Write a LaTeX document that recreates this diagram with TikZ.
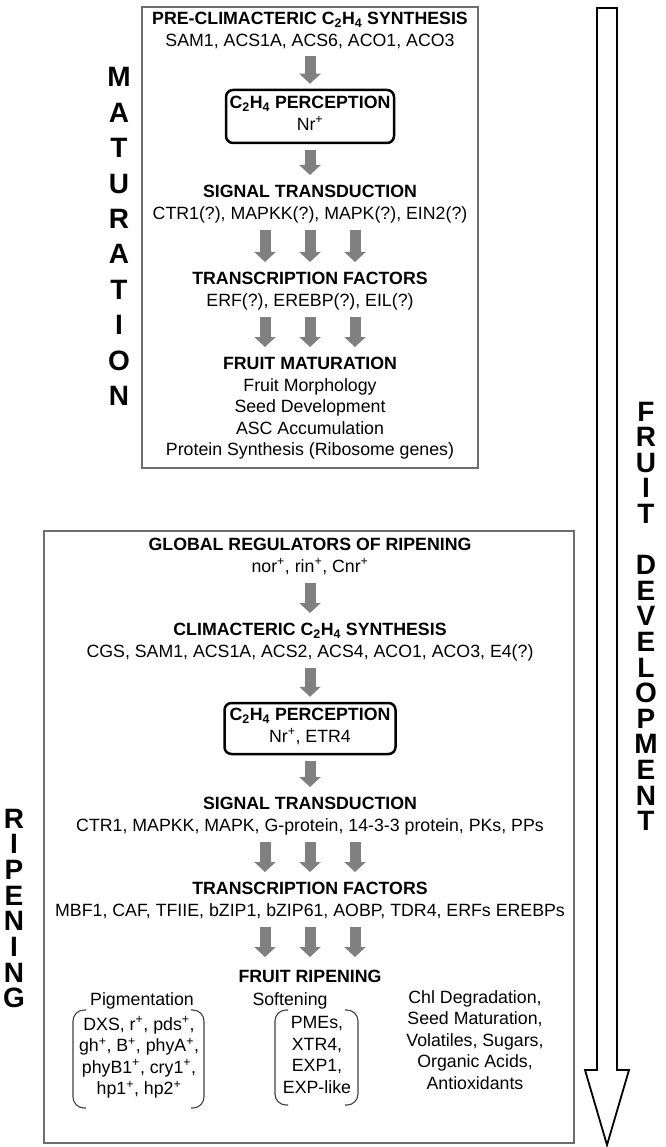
\documentclass[tikz,border=0pt]{standalone}
\usepackage{fontspec}
\setmainfont{Liberation Sans}
\usetikzlibrary{arrows.meta}

\definecolor{arrowgray}{RGB}{128,128,128}
\definecolor{framegray}{RGB}{110,110,110}
\newcommand{\ethyl}{C\textsubscript{2}H\textsubscript{4}}
\newcommand{\plus}{\textsuperscript{+}}
\newcommand{\nl}{\\\strut}

\begin{document}
\begin{tikzpicture}[x=1pt, y=-1pt]
    % Styles
    \tikzstyle{txt}=[inner sep=0pt, anchor=north, align=center, font=\fontsize{17.75}{21.5}\selectfont, execute at begin node=\strut]
    \tikzstyle{percbox}=[txt, anchor=center, draw, line width=2.5pt, rounded corners=7pt, inner xsep=0pt, inner ysep=4pt]
    \tikzstyle{flow}=[arrowgray, line width=11pt, -{Triangle[width=21pt,length=10pt]}, shorten <=4.5pt, shorten >=10pt]
    \tikzstyle{frame}=[framegray, line width=1.6pt]
    \tikzstyle{vletter}=[inner sep=0pt, anchor=base, font=\fontsize{28}{28}\selectfont\bfseries]
    \tikzstyle{bracket}=[black!75, line width=1.1pt, rounded corners=11pt]

    \useasboundingbox (0,0) rectangle (665,1147);

    % --- Big arrow: fruit development ---
    \draw[line width=1.8pt, fill=white] (597,8) -- (617,8) -- (617,1070) -- (629,1070)
        -- (607,1145) -- (585,1070) -- (597,1070) -- cycle;
    \foreach \l [count=\i from 0] in {F,R,U,I,T}
        \node[vletter] (fr\i) at (646, {421+25.6*\i}) {\l};
    \foreach \l [count=\i from 6] in {D,E,V,E,L,O,P,M,E,N,T}
        \node[vletter] (dev\i) at (646, {421+25.6*\i}) {\l};

    % --- Maturation ---
    \draw[frame] (142,7) rectangle (478,468);
    \foreach \l [count=\i from 0] in {M,A,T,U,R,A,T,I,O,N}
        \node[vletter] (mat\i) at (119, {87+35.4*\i}) {\l};

    \node[txt] (pre) at (310,12) {\textbf{PRE-CLIMACTERIC \ethyl{} SYNTHESIS}\nl SAM1, ACS1A, ACS6, ACO1, ACO3};
    \node[percbox, minimum width=168pt, minimum height=53pt] (perc1) at (310,116.5) {\textbf{\ethyl{} PERCEPTION}\nl Nr\plus};
    \node[txt] (sig1) at (310,185) {\textbf{SIGNAL TRANSDUCTION}\nl CTR1(?), MAPKK(?), MAPK(?), EIN2(?)};
    \node[txt] (tf1) at (310,272) {\textbf{TRANSCRIPTION FACTORS}\nl ERF(?), EREBP(?), EIL(?)};
    \node[txt] (mat) at (310,357) {\textbf{FRUIT MATURATION}\nl Fruit Morphology\nl Seed Development\nl ASC Accumulation\nl Protein Synthesis (Ribosome genes)};

    \draw[flow, shorten <=3.5pt, shorten >=5pt] (pre) -- (perc1);
    \draw[flow, shorten <=6pt] (perc1) -- (sig1);
    \foreach \dx in {-45,0,45} {
        \draw[flow] ([xshift=\dx pt]sig1.south) -- ([xshift=\dx pt]tf1.north);
        \draw[flow] ([xshift=\dx pt]tf1.south) -- ([xshift=\dx pt]mat.north);
    }

    % --- Ripening ---
    \draw[frame] (44,531) rectangle (574,1143);
    \foreach \l [count=\i from 0] in {R,I,P,E,N,I,N,G}
        \node[vletter] (rip\i) at (14, {828+25.7*\i}) {\l};

    \node[txt] (glob) at (310,538) {\textbf{GLOBAL REGULATORS OF RIPENING}\nl nor\plus, rin\plus, Cnr\plus};
    \node[txt] (clim) at (310,623) {\textbf{CLIMACTERIC \ethyl{} SYNTHESIS}\nl CGS, SAM1, ACS1A, ACS2, ACS4, ACO1, ACO3, E4(?)};
    \node[percbox, minimum width=171pt, minimum height=51pt] (perc2) at (310,728.5) {\textbf{\ethyl{} PERCEPTION}\nl Nr\plus, ETR4};
    \node[txt] (sig2) at (310,797) {\textbf{SIGNAL TRANSDUCTION}\nl CTR1, MAPKK, MAPK, G-protein, 14-3-3 protein, PKs, PPs};
    \node[txt] (tf2) at (310,882) {\textbf{TRANSCRIPTION FACTORS}\nl MBF1, CAF, TFIIE, bZIP1, bZIP61, AOBP, TDR4, ERFs EREBPs};
    \node[txt] (ripe) at (310,967) {\textbf{FRUIT RIPENING}};

    \draw[flow] (glob) -- (clim);
    \draw[flow, shorten >=5pt] (clim) -- (perc2);
    \draw[flow, shorten <=6pt] (perc2) -- (sig2);
    \foreach \dx in {-45,0,45} {
        \draw[flow] ([xshift=\dx pt]sig2.south) -- ([xshift=\dx pt]tf2.north);
        \draw[flow] ([xshift=\dx pt]tf2.south) -- ([xshift=\dx pt]ripe.north);
    }

    % Ripening outputs
    \node[txt] (pig) at (142,990) {Pigmentation};
    \node[txt] (pigl) at (139,1016.5) {DXS, r\plus, pds\plus,\nl gh\plus, B\plus, phyA\plus,\nl phyB1\plus, cry1\plus,\nl hp1\plus, hp2\plus};
    \node[txt] (soft) at (290,990) {Softening};
    \node[txt] (softl) at (317,1016.5) {PMEs,\nl XTR4,\nl EXP1,\nl EXP-like};
    \node[txt] (other) at (475,990) {Chl Degradation,\nl Seed Maturation,\nl Volatiles, Sugars,\nl Organic Acids,\nl Antioxidants};

    % Brackets
    \draw[bracket] (86,1010) -- (73,1010) -- (73,1108) -- (86,1108);
    \draw[bracket] (191,1010) -- (204,1010) -- (204,1108) -- (191,1108);
    \draw[bracket] (288,1010) -- (275,1010) -- (275,1105) -- (288,1105);
    \draw[bracket] (345,1010) -- (358,1010) -- (358,1105) -- (345,1105);

\end{tikzpicture}
\end{document}
